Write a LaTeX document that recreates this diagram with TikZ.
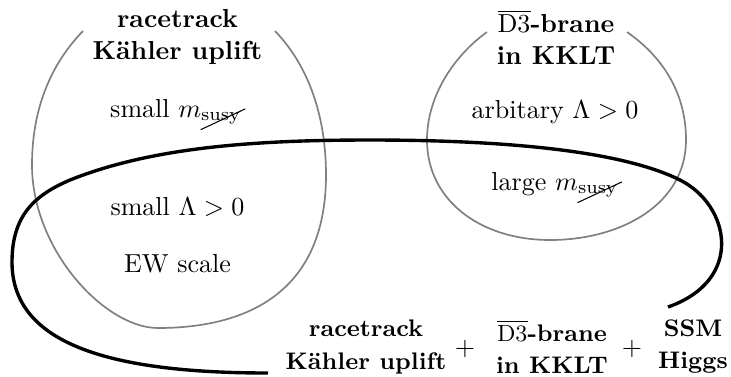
\documentclass[tikz,border=0pt]{standalone}
\newcommand{\susyx}{\tikz[baseline=(s.base)]{\node[inner sep=0pt,outer sep=0pt,anchor=base](s){$\scriptstyle\mathrm{susy}$};\draw[overlay,line width=0.4pt,black]([xshift=-0.2pt,yshift=-2pt]s.south west)--([xshift=1.8pt,yshift=1.6pt]s.north east);}}
\tikzset{
  blob/.style={draw=black!50, line width=0.65pt},
  bigloop/.style={draw=black, line width=1.3pt},
  lbl/.style={inner sep=0pt, anchor=base},
  hdr/.style={align=center, font=\bfseries, inner sep=0pt},
  sumhdr/.style={align=center, font=\fontsize{9.2}{12.3}\selectfont\bfseries, inner sep=0pt},
  plus/.style={inner sep=0pt}
}
\begin{document}
\begin{tikzpicture}[x=0.384pt, y=-0.384pt]
\useasboundingbox (0,0) rectangle (731,376);
% grey regions
\draw[blob] (83,31) .. controls (50,65) and (32,110) .. (32,165)
  .. controls (32,250) and (105,328) .. (158,328)
  .. controls (250,328) and (326,290) .. (326,175)
  .. controls (326,110) and (305,62) .. (275,31);
\draw[blob] (487,32) .. controls (455,55) and (427,95) .. (427,140)
  .. controls (427,200) and (480,240) .. (550,240)
  .. controls (620,240) and (686,205) .. (686,140)
  .. controls (686,90) and (660,55) .. (627,32);
% black loop
\draw[bigloop] (268,373) .. controls (100,373) and (12,340) .. (12,262)
  .. controls (12,215) and (35,195) .. (70,180)
  .. controls (150,148) and (250,140) .. (370,140)
  .. controls (500,140) and (620,150) .. (680,180)
  .. controls (730,205) and (745,280) .. (668,307);
% headers
\node[hdr] (rt) at (177.5,37) {racetrack\\K\"ahler uplift};
\node[hdr] (d3) at (556,37) {$\overline{\mathrm{D3}}$-brane\\in KKLT};
% labels
\node[lbl] (sm) at (176,117) {small $m_{\susyx}$};
\node[lbl] (sl) at (177.5,215) {small $\Lambda>0$};
\node[lbl] (ew) at (177.5,272) {EW scale};
\node[lbl] (al) at (555,118) {arbitary $\Lambda>0$};
\node[lbl] (lm) at (555,190) {large $m_{\susyx}$};
% bottom sum
\node[sumhdr] (b1) at (366,347) {racetrack\\K\"ahler uplift};
\node[plus] (p1) at (465,349) {$+$};
\node[sumhdr] (b2) at (552,347) {$\overline{\mathrm{D3}}$-brane\\in KKLT};
\node[plus] (p2) at (632,349) {$+$};
\node[sumhdr] (b3) at (693,347) {SSM\\Higgs};
\end{tikzpicture}
\end{document}
